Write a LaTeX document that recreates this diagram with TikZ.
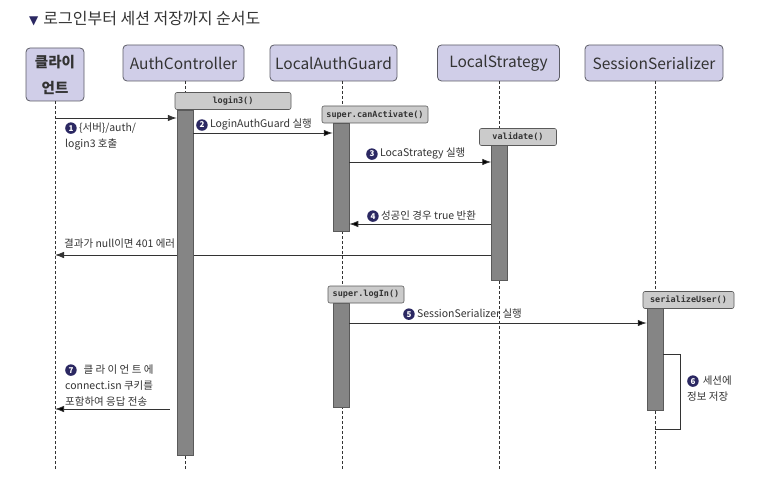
\documentclass[tikz,border=0pt]{standalone}
\usepackage{fontspec}
\setmainfont{Noto Sans CJK KR}
\newfontfamily\dvsans{DejaVu Sans}
\newfontfamily\monob{DejaVu Sans Mono}
\usetikzlibrary{arrows.meta}
\definecolor{navy}{HTML}{2B2862}
\definecolor{lav}{HTML}{D0CEE8}
\definecolor{lavline}{HTML}{5C5C66}
\definecolor{barfill}{HTML}{858585}
\definecolor{barline}{HTML}{5A5A5A}
\definecolor{methfill}{HTML}{CBCBCB}
\definecolor{ink}{HTML}{333333}
\newcommand\cnum[1]{\tikz[baseline=(cnumtmp.base)]\node[circle, fill=navy, text=white, inner sep=0pt,
  minimum size=11.5pt, font=\bfseries\fontsize{8}{8}\selectfont] (cnumtmp) {#1};}
\tikzset{
  actor/.style={draw=lavline, fill=lav, rounded corners=4pt, line width=0.8pt,
    minimum height=36pt, inner sep=0pt, font=\fontsize{15.5}{16}\selectfont, text=ink},
  life/.style={draw=ink, line width=0.6pt, dash pattern=on 3pt off 2pt},
  actbar/.style={draw=barline, fill=barfill, line width=0.5pt, minimum width=16pt,
    inner sep=0pt, anchor=north},
  meth/.style={draw=barline, fill=methfill, rounded corners=2pt, line width=0.6pt,
    minimum height=17pt, inner sep=0pt, font=\monob\bfseries\fontsize{8.5}{10}\selectfont, text=ink},
  msg/.style={draw=ink, line width=0.8pt, -{Latex[length=9pt,width=6.5pt]}},
  lbl/.style={font=\fontsize{10.5}{16}\selectfont, text=ink, inner sep=0pt, align=left}
}
\begin{document}
\begin{tikzpicture}[x=1pt,y=-1pt]
\useasboundingbox (0,0) rectangle (771,492);
% title
\node[anchor=base west, inner sep=0pt, font=\fontsize{16}{18}\selectfont, text=ink] (title) at (29,25)
  {{\dvsans\color{navy}\fontsize{12}{12}\selectfont ▼}\hspace{5pt}로그인부터 세션 저장까지 순서도};
% actors
\node[actor, minimum width=58pt, minimum height=53pt, align=center,
  font=\bfseries\fontsize{14.5}{26}\selectfont] (client) at (55,74.5) {클라이\\언트};
\node[actor, minimum width=121pt] (ac) at (183.5,63) {AuthController};
\node[actor, minimum width=127pt] (lag) at (333.5,63) {LocalAuthGuard};
\node[actor, minimum width=122pt] (ls) at (498.5,63) {LocalStrategy};
\node[actor, minimum width=138pt] (ss) at (654,63) {SessionSerializer};
% lifeline ends
\coordinate (cEnd) at (55,470);
\coordinate (acEnd) at (185,470);
\coordinate (lagEnd) at (342,470);
\coordinate (lsEnd) at (499,470);
\coordinate (ssEnd) at (655,470);
\draw[life] (client.south) -- (cEnd);
\draw[life] (185,81) -- (acEnd);
\draw[life] (342,81) -- (lagEnd);
\draw[life] (499,81) -- (lsEnd);
\draw[life] (655,81) -- (ssEnd);
% y levels
\coordinate (y1) at (0,118);
\coordinate (y2) at (0,133);
\coordinate (y3) at (0,162);
\coordinate (y4) at (0,224);
\coordinate (yr) at (0,255);
\coordinate (y5) at (0,323);
\coordinate (y7) at (0,409);
\coordinate (loopT) at (680,354);
\coordinate (loopB) at (680,429);
% return line drawn under bars
\coordinate (lsret) at (491,255);
\draw[msg] (lsret) -- (cEnd |- yr);
% activation bars
\node[actbar, minimum height=345pt] (acbar) at (185,110) {};
\node[actbar, minimum height=108pt] (lagbar1) at (341,123) {};
\node[actbar, minimum height=135pt] (lsbar) at (499.5,145) {};
\node[actbar, minimum height=104pt] (lagbar2) at (341,303) {};
\node[actbar, minimum height=102pt] (ssbar) at (655,308) {};
% method boxes
\node[meth, minimum width=116pt] (m1) at (233,101) {login3()};
\node[meth, minimum width=106pt] (m2) at (375,114.5) {super.canActivate()};
\node[meth, minimum width=77pt] (m3) at (518,137) {validate()};
\node[meth, minimum width=76pt] (m4) at (366,294.5) {super.logIn()};
\node[meth, minimum width=91pt] (m5) at (688.5,300) {serializeUser()};
% messages
\draw[msg] (cEnd |- y1) -- (acbar.west |- y1);
\node[lbl, anchor=base west] (l1) at (65,147) {\cnum{1} \{서버\}/auth/\\login3 호출};
\draw[msg] (acbar.east |- y2) -- (lagbar1.west |- y2);
\node[lbl, anchor=base west] (l2) at (196,128) {\cnum{2} LoginAuthGuard 실행};
\draw[msg] (lagbar1.east |- y3) -- (lsbar.west |- y3);
\node[lbl, anchor=base west] (l3) at (366,157) {\cnum{3} LocaStrategy 실행};
\draw[msg] (lsbar.west |- y4) -- (lagbar1.east |- y4);
\node[lbl, anchor=base west] (l4) at (367,219) {\cnum{4} 성공인 경우 true 반환};
\node[lbl, anchor=base west] (lr) at (64,247) {결과가 null이면 401 에러};
\draw[msg] (lagbar2.east |- y5) -- (ssbar.west |- y5);
\node[lbl, anchor=base west] (l5) at (403,317) {\cnum{5} SessionSerializer 실행};
\draw[draw=ink, line width=0.8pt] (ssbar.east |- loopT) -- (loopT) -- (loopB) -- (ssEnd |- loopB);
\node[lbl, anchor=base west] (l6) at (687,400) {\cnum{6}\, 세션에\\정보 저장};
\draw[msg] ([xshift=-7pt]acbar.west |- y7) -- (cEnd |- y7);
\node[lbl, anchor=base west] (l7) at (65,405) {\cnum{7}\;\, 클 라 이 언 트 에\\connect.isn 쿠키를\\포함하여 응답 전송};
\end{tikzpicture}
\end{document}
